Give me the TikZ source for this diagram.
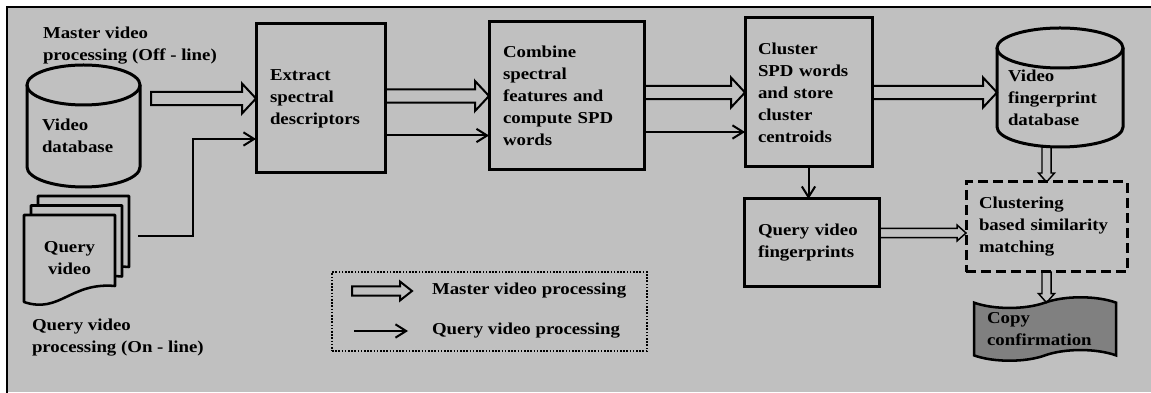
\documentclass[tikz,border=0pt]{standalone}
\usepackage{fontspec}
\setmainfont{Liberation Serif}[FakeStretch=1.13]
\usetikzlibrary{positioning, arrows.meta, calc, shapes.symbols}
\definecolor{panelgray}{HTML}{C0C0C0}
\definecolor{tapegray}{HTML}{808080}
\pgfdeclarelayer{background}
\pgfsetlayers{background,main}

\begin{document}
\begin{tikzpicture}[%
		x=0.75pt, y=0.75pt,
		every node/.style={
			font=\fontsize{12.5}{16.5}\selectfont\bfseries,
			outer sep=0pt
		},
		process/.style={
			rectangle,
			draw,
			line width=2.25pt,
			align=left,
			inner ysep=2pt
		},
		matching/.style={
			process,
			dash pattern=on 7.5pt off 3.75pt
		},
		dbbody/.style={
			rectangle,
			align=left,
			inner ysep=2pt
		},
		dbline/.style={
			line width=2.25pt
		},
		docline/.style={
			line width=1.9pt,
			line join=round,
			fill=panelgray,
			draw
		},
		result/.style={
			tape,
			draw,
			fill=tapegray,
			line width=1.9pt,
			tape bend top=in and out,
			tape bend bottom=in and out,
			tape bend height=8pt,
			align=left
		},
		legendbox/.style={
			rectangle,
			draw,
			line width=1.5pt,
			dash pattern=on 1.2pt off 1.2pt
		},
		caption/.style={
			anchor=west,
			inner sep=0pt,
			align=left
		},
		blockarrow/.style n args={3}{
			draw,
			line join=miter,
			to path={
				($(\tikztostart)!#1!90:(\tikztotarget)$)
				-- ($(\tikztotarget)!#3!(\tikztostart)!#1!90:(\tikztotarget)$)
				-- ($(\tikztotarget)!#3!(\tikztostart)!#2!90:(\tikztotarget)$)
				-- (\tikztotarget)
				-- ($(\tikztotarget)!#3!(\tikztostart)!#2!-90:(\tikztotarget)$)
				-- ($(\tikztotarget)!#3!(\tikztostart)!#1!-90:(\tikztotarget)$)
				-- ($(\tikztostart)!#1!-90:(\tikztotarget)$) -- cycle
			}
		},
		masterarrow/.style={
			blockarrow={4.9pt}{11.25pt}{10.5pt},
			line width=1.5pt
		},
		smallarrow/.style={
			blockarrow={3.4pt}{6pt}{6.75pt},
			line width=1.1pt
		},
		legendarrow/.style={
			blockarrow={3.4pt}{7.1pt}{9pt},
			line width=1.5pt
		},
		queryarrow/.style={
			line width=1.5pt,
			-{Straight Barb[length=8pt,width=10pt]}
		}]

		\useasboundingbox (0,0) rectangle (1151,392);

		% PANEL

		\begin{pgfonlayer}{background}
			\fill[panelgray] (7,0) rectangle (1151,385);
		\end{pgfonlayer}
		\draw[line width=1.2pt] (7,-2) -- (7,385) -- (1153,385);

		% INPUTS

		\node (offline) [caption] at (43,346) {Master video\\processing (Off - line)};
		\node (online) [caption] at (32,54) {Query video\\processing (On - line)};

		\node (vdb) [dbbody, minimum width=84.75pt, minimum height=76.5pt, inner xsep=11.25pt, text width=62.25pt] at (83.5,256) {Video\\database};
		\draw[dbline] (vdb.north) ellipse [x radius=56.5, y radius=20];
		\draw[dbline] (vdb.north west) -- ($(vdb.south west)+(0,20)$) arc [start angle=180, end angle=360, x radius=56.5, y radius=20] -- (vdb.north east);

		\node (qdoc) [align=center, minimum width=68.25pt, minimum height=65.25pt] at (69.5,133.5) {Query\\video};
		\begin{pgfonlayer}{background}
			\foreach \k in {2,1,0}
				\draw[docline] ($(qdoc.south west)+(\k*7,\k*9.5)$) -- ++(0,87) -- ++(91,0) -- ++(0,-71) .. controls +(-45,4) and +(36,-12) .. ++(-91,-16) -- cycle;
		\end{pgfonlayer}

		% PROCESSING BLOCKS

		\node (ext) [process, minimum width=96.75pt, minimum height=111.75pt, inner xsep=10.5pt, text width=75.75pt] at (320.5,293.5) {Extract\\spectral\\descriptors};
		\node (comb) [process, minimum width=116.25pt, minimum height=111pt, inner xsep=10.5pt, text width=95.25pt] at (566.5,296) {Combine\\spectral\\features and\\compute SPD\\words};
		\node (clus) [process, minimum width=95.25pt, minimum height=111.75pt, inner xsep=9.75pt, text width=75.75pt] at (808.5,299.5) {Cluster\\SPD words\\and store\\cluster\\centroids};
		\node (qvf) [process, minimum width=101.25pt, minimum height=66pt, inner xsep=10.5pt, text width=80.25pt] at (811.5,149) {Query video\\fingerprints};

		\node (vfdb) [dbbody, minimum width=94.5pt, minimum height=74.25pt, inner xsep=8.25pt, text width=78pt] at (1060,294.5) {Video\\fingerprint\\database};
		\draw[dbline] (vfdb.north) ellipse [x radius=63, y radius=20];
		\draw[dbline] (vfdb.north west) -- ($(vfdb.south west)+(0,20)$) arc [start angle=180, end angle=360, x radius=63, y radius=20] -- (vfdb.north east);

		\node (match) [matching, minimum width=120.75pt, minimum height=67.5pt, inner xsep=9.75pt, text width=101.25pt] at (1046.5,165) {Clustering\\based similarity\\matching};
		\node (copy) [result, minimum width=106.5pt, minimum height=44pt, inner xsep=9.75pt, text width=87pt] at (1045,63) {Copy\\confirmation};

		% MASTER VIDEO LINES

		\draw[masterarrow] ($(vdb.east |- ext.west)+(11,0)$) to (ext.west);
		\draw[masterarrow] (ext.east |- comb.west) to (comb.west);
		\draw[masterarrow] (comb.east |- clus.west) to (clus.west);
		\draw[masterarrow] (clus.east) to (clus.east -| vfdb.west);
		\draw[smallarrow] (match.north |- vfdb.south) to (match.north);
		\coordinate (qm) at ($(qvf.east)+(0,10)$);
		\draw[smallarrow] (qm) to (qm -| match.west);
		\draw[smallarrow] (match.south) to (match.south |- copy.north);

		% QUERY VIDEO LINES

		\coordinate (qin) at ($(ext.west)+(0,-40.5)$);
		\draw[queryarrow] ($(qdoc.north east)+(23,-21)$) -| ($(qin)+(-63,0)$) -- (qin);
		\coordinate (q2) at ($(ext.east)+(0,-37)$);
		\draw[queryarrow] (q2) -- (q2 -| comb.west);
		\coordinate (q3) at ($(comb.east)+(0,-36)$);
		\draw[queryarrow] (q3) -- (q3 -| clus.west);
		\draw[queryarrow] (clus.south) -- (clus.south |- qvf.north);

		% LEGEND

		\node (legend) [legendbox, minimum width=236.25pt, minimum height=59.25pt] at (489.5,80.5) {};
		\node (lmaster) [caption] at (432,101) {Master video processing};
		\node (lquery) [caption] at (432,61) {Query video processing};
		\coordinate (lm1) at ($(lmaster.west)+(-80,0)$);
		\coordinate (lm2) at ($(lmaster.west)+(-20,0)$);
		\draw[legendarrow] (lm1) to (lm2);
		\coordinate (lq1) at ($(lquery.west)+(-78,0)$);
		\coordinate (lq2) at ($(lquery.west)+(-24,0)$);
		\draw[queryarrow] (lq1) -- (lq2);
\end{tikzpicture}
\end{document}
